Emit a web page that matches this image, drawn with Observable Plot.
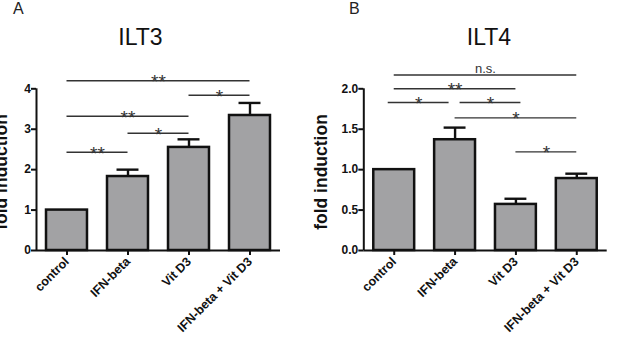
<!DOCTYPE html>
<html>
<head>
<meta charset="utf-8">
<script src="https://cdn.jsdelivr.net/npm/d3@7"></script>
<script src="https://cdn.jsdelivr.net/npm/@observablehq/plot@0.6"></script>
<style>
  html, body { margin: 0; padding: 0; background: #fff; }
  #wrap { position: relative; width: 620px; height: 343px; overflow: hidden; background: #fff; }
  .panel { position: absolute; top: 0; }
  #overlay { position: absolute; left: 0; top: 0; pointer-events: none; }
  .panel svg [aria-label*="axis"] line, .panel svg [aria-label*="tick"] path { stroke-width: 2px; }
  .panel svg [aria-label^="y-axis"] text { font-size: 12px; }
</style>
</head>
<body>
<div id="wrap">
  <div class="panel" id="pa" style="left:0px"></div>
  <div class="panel" id="pb" style="left:310px"></div>
</div>
<script>
// ---- data ----
const categories = ["control", "IFN-beta", "Vit D3", "IFN-beta + Vit D3"];

const ilt3Mean  = [1.0, 1.83, 2.55, 3.34];
const ilt3Upper = [1.0, 2.00, 2.75, 3.65];   // mean + error
const ilt4Mean  = [1.0, 1.37, 0.57, 0.89];
const ilt4Upper = [1.0, 1.52, 0.64, 0.95];

const ilt3Ticks = [0, 1, 2, 3, 4];
const ilt4Ticks = [0, 0.5, 1.0, 1.5, 2.0];

const ilt3BracketFrom  = ["control", "IFN-beta", "control", "Vit D3", "control"];
const ilt3BracketTo    = ["IFN-beta", "Vit D3", "Vit D3", "IFN-beta + Vit D3", "IFN-beta + Vit D3"];
const ilt3BracketY     = [2.43, 2.90, 3.32, 3.84, 4.20];
const ilt3BracketLabel = ["**", "*", "**", "*", "**"];

const ilt4BracketFrom  = ["control", "control", "control", "IFN-beta", "IFN-beta", "Vit D3"];
const ilt4BracketTo    = ["IFN-beta + Vit D3", "Vit D3", "IFN-beta", "Vit D3", "IFN-beta + Vit D3", "IFN-beta + Vit D3"];
const ilt4BracketY     = [2.17, 2.00, 1.83, 1.83, 1.64, 1.22];
const ilt4BracketLabel = ["n.s.", "**", "*", "*", "*", "*"];

const titles = ["ILT3", "ILT4"];
const panelLetters = ["A", "B"];
const yLabel = "fold induction";

// ---- drawing ----
function panel(mean, upper, bFrom, bTo, bY, bLabel, cfg) {
  const bars = categories.map((c, i) => ({c, i, mean: mean[i], upper: upper[i]}));
  const errs = bars.filter(d => d.upper > d.mean);
  const brackets = bFrom.map((f, k) => ({
    i1: categories.indexOf(f), i2: categories.indexOf(bTo[k]), y: bY[k], label: bLabel[k]
  }));
  brackets.forEach(b => {
    b.shift = 0;
    for (const o of brackets) if (o !== b && o.y === b.y) {
      if (o.i1 >= b.i2) b.shift = -1; else if (o.i2 <= b.i1) b.shift = 1;
    }
  });
  const hw = 0.336, cap = 0.18;
  const ink = "#111", lineCol = "#333";
  const yMax = cfg.ticks[cfg.ticks.length - 1];
  const bracketMarks = [[-1, -6], [0, 0], [1, 5]].flatMap(([s, dx]) => {
    const sel = brackets.filter(b => b.shift === s);
    return [
      Plot.ruleY(sel, {y: "y", x1: "i1", x2: "i2", dx, stroke: lineCol, strokeWidth: 1.4}),
      Plot.text(sel.filter(b => b.label.includes("*")), {
        x: b => (b.i1 + b.i2) / 2, y: "y", text: "label", dx, dy: 7.5,
        lineAnchor: "bottom", fontSize: 19, fontWeight: "normal", fill: lineCol
      }),
      Plot.text(sel.filter(b => !b.label.includes("*")), {
        x: b => (b.i1 + b.i2) / 2, y: "y", text: "label", dx, dy: -2.5,
        lineAnchor: "bottom", fontSize: 13, fontWeight: "normal", fill: lineCol
      })
    ];
  });
  return Plot.plot({
    width: 310, height: 343,
    marginLeft: cfg.ml, marginRight: cfg.mr, marginTop: 88.3, marginBottom: 93,
    style: {fontFamily: "'Liberation Sans', Arial, sans-serif", fontSize: "12.5px", fontWeight: "bold", color: "#111", background: "transparent", overflow: "visible"},
    x: {type: "linear", domain: [-0.5, 3.5], ticks: [0, 1, 2, 3], tickFormat: i => categories[i], tickRotate: -45, tickSize: 5, tickPadding: 4, label: null},
    y: {domain: [0, yMax], ticks: cfg.ticks, tickFormat: cfg.fmt, tickSize: 5, tickPadding: 0.5, label: null},
    marks: [
      Plot.rectY(bars, {x1: d => d.i - hw, x2: d => d.i + hw, y1: 0, y2: "mean", fill: "#a2a2a4", stroke: ink, strokeWidth: 2.5}),
      Plot.ruleX(errs, {x: "i", y1: "mean", y2: "upper", stroke: ink, strokeWidth: 2.4}),
      Plot.ruleY(errs, {y: "upper", x1: d => d.i - cap, x2: d => d.i + cap, stroke: ink, strokeWidth: 2.4}),
      Plot.ruleY([0], {x1: -0.5, x2: 3.5, stroke: ink, strokeWidth: 2}),
      Plot.ruleX([-0.5], {y1: 0, y2: yMax, stroke: ink, strokeWidth: 2}),
      ...bracketMarks
    ]
  });
}

document.getElementById("pa").appendChild(
  panel(ilt3Mean, ilt3Upper, ilt3BracketFrom, ilt3BracketTo, ilt3BracketY, ilt3BracketLabel,
        {ml: 36, mr: 30, ticks: ilt3Ticks, fmt: d3.format("d")}));
document.getElementById("pb").appendChild(
  panel(ilt4Mean, ilt4Upper, ilt4BracketFrom, ilt4BracketTo, ilt4BracketY, ilt4BracketLabel,
        {ml: 53.3, mr: 13.3, ticks: ilt4Ticks, fmt: d3.format(".1f")}));

// ---- titles and axis labels ----
const ov = d3.select("#wrap").append("svg").attr("id", "overlay")
  .attr("width", 620).attr("height", 343)
  .style("font-family", "'Liberation Sans', Arial, sans-serif");
const titleX = [140.5, 489], letterX = [13, 349], labelX = [7, 327];
[0, 1].forEach(k => {
  ov.append("text").attr("x", letterX[k]).attr("y", 13.5).attr("font-size", 16).attr("fill", "#222").text(panelLetters[k]);
  ov.append("text").attr("x", titleX[k]).attr("y", 45).attr("text-anchor", "middle").attr("font-size", 23).attr("fill", "#111").text(titles[k]);
  ov.append("text").attr("transform", `translate(${labelX[k]},172) rotate(-90)`).attr("text-anchor", "middle")
    .attr("font-size", 17.5).attr("font-weight", "bold").attr("fill", "#111").text(yLabel);
});
</script>
</body>
</html>
